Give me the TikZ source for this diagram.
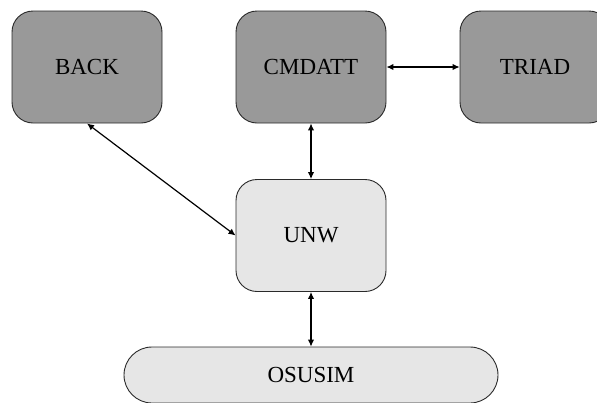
\documentclass[tikz,border=0pt]{standalone}
\usepackage{fontspec}
\setmainfont{Liberation Serif}
\usetikzlibrary{arrows.meta}
\definecolor{darkfill}{HTML}{999999}
\definecolor{lightfill}{HTML}{E6E6E6}
\definecolor{edgegray}{HTML}{2A2A2A}
\tikzset{
  module/.style={draw=edgegray, line width=0.9pt, rounded corners=21pt,
    minimum width=150pt, minimum height=112pt, inner sep=0pt,
    font=\fontsize{23}{27}\selectfont},
  upper/.style={module, fill=darkfill},
  lower/.style={module, fill=lightfill},
  simbar/.style={draw=edgegray, line width=0.9pt, fill=lightfill, rounded corners=28pt,
    minimum width=374pt, minimum height=56pt, inner sep=0pt,
    font=\fontsize{23}{27}\selectfont},
  link/.style={line width=1.2pt, {Latex[length=7pt,width=6.5pt]}-{Latex[length=7pt,width=6.5pt]}}
}
\begin{document}
\begin{tikzpicture}[x=1pt,y=-1pt]
  \useasboundingbox (0,0) rectangle (597,402);
  \clip (0,0) rectangle (597,402);
  \node[upper] (back)   at (87,67)   {BACK};
  \node[upper] (cmdatt) at (311,67)  {CMDATT};
  \node[upper] (triad)  at (535,67)  {TRIAD};
  \node[lower] (unw)    at (311,235.5) {UNW};
  \node[simbar] (osusim) at (311,375) {OSUSIM};
  \draw[link] (cmdatt.east) -- (triad.west);
  \draw[link] (cmdatt.south) -- (unw.north);
  \draw[link] (back.south) -- (unw.west);
  \draw[link] (unw.south) -- (osusim.north);
\end{tikzpicture}
\end{document}
